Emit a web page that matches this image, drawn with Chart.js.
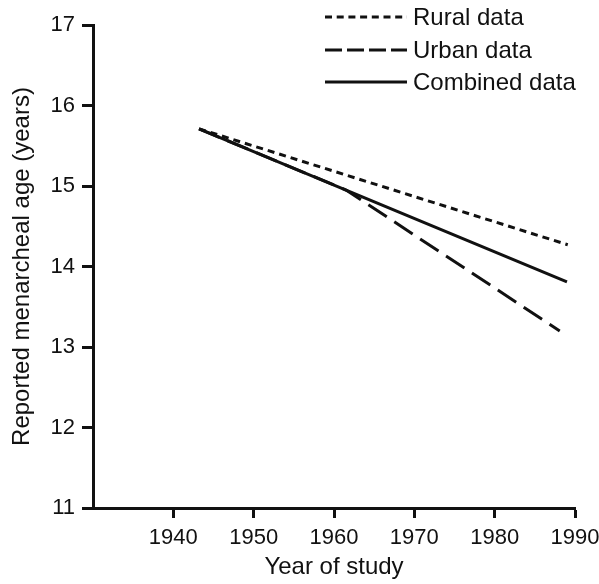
<!DOCTYPE html>
<html>
<head>
<meta charset="utf-8">
<script src="https://cdn.jsdelivr.net/npm/chart.js@4"></script>
<style>
    html, body { margin: 0; padding: 0; background: #ffffff; }
    #wrap { width: 599px; height: 584px; }
</style>
</head>
<body>
<div id="wrap"><canvas id="menarcheChart"></canvas></div>
<script>
// Series (year of study, reported menarcheal age)
const seriesNames = ['Rural data', 'Urban data', 'Combined data'];
const ruralYears = [1943.2, 1989.1];
const ruralAges = [15.71, 14.27];
const urbanYears = [1943.2, 1961.5, 1988.1];
const urbanAges = [15.71, 14.95, 13.20];
const combinedYears = [1943.2, 1961.5, 1989.0];
const combinedAges = [15.71, 14.95, 13.81];
const xTickLabels = [1940, 1950, 1960, 1970, 1980, 1990];
const yTickLabels = [11, 12, 13, 14, 15, 16, 17];

const fontFamily = '"Liberation Sans", Arial, Helvetica, sans-serif';
const ink = '#111111';

function toPoints(xs, ys) {
    return xs.map(function(x, i) { return { x: x, y: ys[i] }; });
}

// Legend drawn as line samples at the top right, like the printed figure
const lineLegend = {
    id: 'lineLegend',
    afterDraw: function(chart) {
        const ctx = chart.ctx;
        const area = chart.chartArea;
        const x0 = area.left + 232;
        const x1 = x0 + 82;
        const rows = [17, 50, 82];
        ctx.save();
        chart.data.datasets.forEach(function(ds, i) {
            const y = rows[i];
            ctx.strokeStyle = ink;
            ctx.lineWidth = 3;
            ctx.setLineDash(ds.legendDash || []);
            ctx.beginPath();
            ctx.moveTo(x0, y);
            ctx.lineTo(x1, y);
            ctx.stroke();
            ctx.setLineDash([]);
            ctx.fillStyle = ink;
            ctx.font = '24px ' + fontFamily;
            ctx.textBaseline = 'middle';
            ctx.textAlign = 'left';
            ctx.fillText(ds.label, x1 + 6, y + 1);
        });
        ctx.restore();
    }
};

document.addEventListener('DOMContentLoaded', function() {
    Chart.defaults.color = ink;
    Chart.defaults.font.family = fontFamily;

    const ctx = document.getElementById('menarcheChart').getContext('2d');
    new Chart(ctx, {
        type: 'line',
        data: {
            datasets: [{
                label: seriesNames[0],
                data: toPoints(ruralYears, ruralAges),
                borderDash: [7, 5],
                legendDash: [7, 4.7],
                order: 3
            }, {
                label: seriesNames[1],
                data: toPoints(urbanYears, urbanAges),
                borderDash: [22, 9],
                legendDash: [17, 5],
                order: 2
            }, {
                label: seriesNames[2],
                data: toPoints(combinedYears, combinedAges),
                borderDash: [],
                legendDash: [],
                order: 1
            }].map(function(ds) {
                return Object.assign({
                    borderColor: ink,
                    borderWidth: 3,
                    pointRadius: 0,
                    fill: false,
                    tension: 0
                }, ds);
            })
        },
        options: {
            responsive: true,
            maintainAspectRatio: false,
            animation: false,
            layout: {
                padding: { top: 25, right: 24, bottom: 0, left: 0 }
            },
            plugins: {
                legend: { display: false },
                tooltip: { enabled: false }
            },
            scales: {
                x: {
                    type: 'linear',
                    min: 1930,
                    max: 1990,
                    border: { display: true, color: ink, width: 3 },
                    grid: {
                        drawOnChartArea: false,
                        drawTicks: true,
                        tickLength: 10,
                        tickWidth: 3,
                        color: ink
                    },
                    ticks: {
                        stepSize: 10,
                        padding: 7,
                        maxRotation: 0,
                        font: { size: 22 },
                        color: ink,
                        callback: function(value) { return String(value); }
                    },
                    afterBuildTicks: function(scale) {
                        scale.ticks = xTickLabels.map(function(v) { return { value: v }; });
                    },
                    afterFit: function(scale) {
                        scale.height = 76;
                        scale.paddingLeft = 0;
                        scale.paddingRight = 0;
                    },
                    title: {
                        display: true,
                        text: 'Year of study',
                        font: { size: 24 },
                        color: ink,
                        padding: { top: 4, bottom: 2 }
                    }
                },
                y: {
                    type: 'linear',
                    min: 11,
                    max: 17,
                    border: { display: true, color: ink, width: 3 },
                    grid: {
                        drawOnChartArea: false,
                        drawTicks: true,
                        tickLength: 11,
                        tickWidth: 3,
                        color: ink
                    },
                    ticks: {
                        stepSize: 1,
                        padding: 7,
                        font: { size: 22 },
                        color: ink
                    },
                    afterBuildTicks: function(scale) {
                        scale.ticks = yTickLabels.map(function(v) { return { value: v }; });
                    },
                    afterFit: function(scale) { scale.width = 93; },
                    title: {
                        display: true,
                        text: 'Reported menarcheal age (years)',
                        font: { size: 24 },
                        color: ink,
                        padding: { top: 8, bottom: 2 }
                    }
                }
            }
        },
        plugins: [lineLegend]
    });
});
</script>
</body>
</html>
